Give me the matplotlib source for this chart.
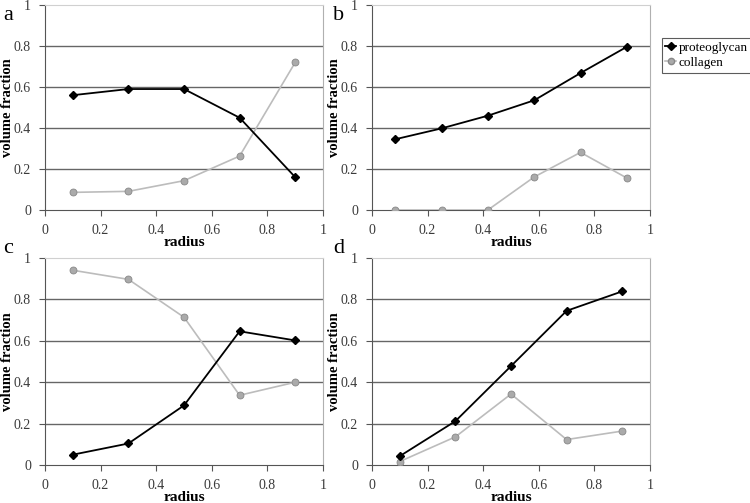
import matplotlib
matplotlib.use("Agg")
import matplotlib.pyplot as plt
from matplotlib.lines import Line2D

plt.rcParams['font.family'] = ['Liberation Serif', 'DejaVu Serif']

# panel a
a_x = [0.1, 0.3, 0.5, 0.7, 0.9]
a_prot = [0.56, 0.59, 0.59, 0.45, 0.16]
a_coll = [0.086, 0.091, 0.143, 0.263, 0.72]

# panel b
b_x = [1/12, 3/12, 5/12, 7/12, 9/12, 11/12]
b_prot = [0.345, 0.398, 0.46, 0.535, 0.668, 0.796]
b_coll = [0.0, 0.0, 0.0, 0.161, 0.281, 0.156]

# panel c
c_x = [0.1, 0.3, 0.5, 0.7, 0.9]
c_prot = [0.05, 0.104, 0.288, 0.646, 0.602]
c_coll = [0.941, 0.897, 0.714, 0.337, 0.4]

# panel d
d_x = [0.1, 0.3, 0.5, 0.7, 0.9]
d_prot = [0.043, 0.212, 0.478, 0.745, 0.839]
d_coll = [0.017, 0.136, 0.343, 0.123, 0.164]

panel_labels = ['a', 'b', 'c', 'd']
ticks = [0, 0.2, 0.4, 0.6, 0.8, 1]
tick_labels = ['0', '0.2', '0.4', '0.6', '0.8', '1']

fig = plt.figure(figsize=(7.5, 5.03), dpi=100)

boxes = [
    [0.060, 0.5825, 0.3707, 0.4076],
    [0.496, 0.5825, 0.3707, 0.4076],
    [0.060, 0.0755, 0.3707, 0.4115],
    [0.496, 0.0755, 0.3707, 0.4115],
]
# letter / ylabel positions in axes coords
letter_pos = [(-0.151, 0.927), (-0.14, 0.927), (-0.151, 1.024), (-0.14, 1.024)]
ylab_x = [-0.11, -0.11, -0.11, -0.11]
data = [(a_x, a_prot, a_coll), (b_x, b_prot, b_coll),
        (c_x, c_prot, c_coll), (d_x, d_prot, d_coll)]

for i, (box, (x, prot, coll), lab) in enumerate(zip(boxes, data, panel_labels)):
    ax = fig.add_axes(box)
    ax.set_xlim(0, 1)
    ax.set_ylim(0, 1)
    for g in [0.2, 0.4, 0.6, 0.8]:
        ax.axhline(g, color='#666666', lw=1.0, zorder=1)
    ax.plot(x, coll, color='#bcbcbc', lw=1.2, marker='o', ms=5,
            mfc='#aaaaaa', mec='#888888', mew=0.6, zorder=3)
    ax.plot(x, prot, color='black', lw=1.3, marker='D', ms=4.5,
            mfc='black', mec='black', zorder=4)
    ax.set_xticks(ticks)
    ax.set_xticklabels(tick_labels)
    ax.set_yticks(ticks)
    ax.set_yticklabels(tick_labels)
    ax.tick_params(direction='out', length=4, width=0.8, colors='#555555',
                   labelcolor='#3a3a3a', labelsize=10)
    ax.tick_params(axis='x', pad=6)
    ax.tick_params(axis='y', pad=6)
    ax.spines['left'].set_color('#555555')
    ax.spines['bottom'].set_color('#555555')
    ax.spines['right'].set_color('#b0b0b0')
    ax.spines['top'].set_color('#d0d0d0')
    ax.set_xlabel('radius', fontweight='bold', fontsize=11, labelpad=-1)
    ax.set_ylabel('volume fraction', fontweight='bold', fontsize=10.5)
    ax.yaxis.set_label_coords(ylab_x[i], 0.5)
    ax.text(letter_pos[i][0], letter_pos[i][1], lab, transform=ax.transAxes,
            fontsize=16, ha='left', va='baseline')

handles = [
    Line2D([], [], color='black', lw=1.3, marker='D', ms=4, mfc='black'),
    Line2D([], [], color='#bcbcbc', lw=1.2, marker='o', ms=4.5,
           mfc='#aaaaaa', mec='#888888'),
]
leg = fig.legend(handles, ['proteoglycan', 'collagen'], loc='upper left',
                 bbox_to_anchor=(0.882, 0.925), frameon=True, fancybox=False,
                 edgecolor='#333333', fontsize=9.5, handlelength=0.8,
                 handletextpad=0.2, borderpad=0.3, labelspacing=0.2,
                 borderaxespad=0)
leg.get_frame().set_linewidth(0.8)

fig.savefig('out.png', dpi=100)
